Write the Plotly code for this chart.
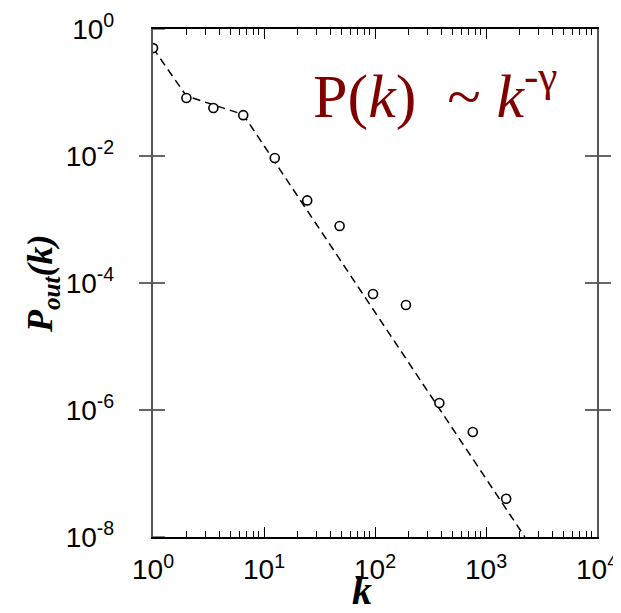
import plotly.graph_objects as go

# Data
k_values = [1, 2, 3.5, 6.5, 12.5, 24.5, 48, 96, 190, 380, 760, 1520]
p_out_values = [0.5, 0.082, 0.057, 0.044, 0.0093, 0.002, 7.9e-4, 6.7e-5, 4.5e-5, 1.29e-6, 4.5e-7, 4.0e-8]

# Dashed fitted curve
fit_k = [1, 2, 6.5, 2240]
fit_p = [0.5, 0.088, 0.045, 1e-8]

x_tickvals = [1, 10, 100, 1000, 10000]
x_ticktext = ["10<sup>0</sup>", "10<sup>1</sup>", "10<sup>2</sup>", "10<sup>3</sup>", "10<sup>4</sup>"]
y_tickvals = [1, 1e-2, 1e-4, 1e-6, 1e-8]
y_ticktext = ["10<sup>0</sup>", "10<sup>-2</sup>", "10<sup>-4</sup>", "10<sup>-6</sup>", "10<sup>-8</sup>"]

PAD = "&nbsp;" * 4  # gap between y tick labels and the axis

OFF = 8  # default page body margin
W, H = 621 - OFF, 613 - OFF
# plot area in page pixels: x 153..597, y 29..537
L, R, T, B = 153 - OFF, 621 - 597, 29 - OFF, 613 - 537
pw, ph = W - L - R, H - T - B

def px(x):
    return (x - OFF - L) / pw

def py(y):
    return (H - B - (y - OFF)) / ph

fig = go.Figure()
fig.add_trace(go.Scatter(
    x=fit_k, y=fit_p, mode="lines",
    line=dict(color="black", width=1.5, dash="8px,5px"),
    hoverinfo="skip", showlegend=False,
))
fig.add_trace(go.Scatter(
    x=k_values, y=p_out_values, mode="markers",
    marker=dict(symbol="circle", size=9, color="white",
                line=dict(color="black", width=1.6)),
    showlegend=False,
))
# left-axis major ticks: horizontal tick symbols at the left edge (half clipped by the plot area)
fig.add_trace(go.Scatter(
    x=[x_tickvals[0]] * len(y_tickvals), y=y_tickvals, mode="markers",
    marker=dict(symbol="line-ew", size=17, color="#666666",
                line=dict(color="#666666", width=1.6)),
    hoverinfo="skip", showlegend=False, cliponaxis=True,
))
# invisible trace to activate the top x axis
fig.add_trace(go.Scatter(
    x=[k_values[0]], y=[p_out_values[0]], xaxis="x2", mode="markers",
    marker=dict(opacity=0), hoverinfo="skip", showlegend=False,
))

tickfont = dict(size=28, color="black", family="Liberation Sans, Arial, sans-serif")

fig.update_layout(
    width=W, height=H,
    margin=dict(l=L, r=R, t=T, b=B, pad=0),
    paper_bgcolor="white", plot_bgcolor="white",
    font=dict(family="Liberation Sans, Arial, sans-serif", color="black"),
    showlegend=False,
    xaxis=dict(
        type="log", range=[0, 4], automargin=False,
        tickvals=x_tickvals, ticktext=x_ticktext,
        ticks="inside", ticklen=10, tickwidth=1.2, tickcolor="black",
        minor=dict(ticks="inside", ticklen=6, tickwidth=1.2, tickcolor="black", dtick="D1"),
        showline=True, linecolor="black", linewidth=1.5,
        showgrid=False, zeroline=False,
        tickfont=tickfont, ticklabelstandoff=7,
    ),
    xaxis2=dict(
        type="log", range=[0, 4], automargin=False, overlaying="x", side="top",
        tickvals=x_tickvals, showticklabels=False,
        ticks="inside", ticklen=10, tickwidth=1.2, tickcolor="black",
        minor=dict(ticks="inside", ticklen=6, tickwidth=1.2, tickcolor="black", dtick="D1"),
        showline=True, linecolor="black", linewidth=1.5,
        showgrid=False, zeroline=False,
    ),
    yaxis=dict(
        type="log", range=[-8, 0], automargin=False,
        tickvals=y_tickvals, ticktext=[t + PAD for t in y_ticktext],
        ticks="inside", ticklen=12, tickwidth=1.6, tickcolor="#666666",
        showline=True, linecolor="#555555", linewidth=2, mirror="allticks",
        showgrid=False, zeroline=False,
        tickfont=tickfont,
    ),
)

fig.add_annotation(
    x=px(42), y=py(284), xref="paper", yref="paper",
    text="<b><i>P<sub>out</sub>(k)</i></b>", textangle=-90,
    showarrow=False, xanchor="center", yanchor="middle",
    font=dict(family="Liberation Serif, Times New Roman, serif", size=36, color="black"),
)
fig.add_annotation(
    x=px(362), y=py(590), xref="paper", yref="paper",
    text="<b><i>k</i></b>",
    showarrow=False, xanchor="center", yanchor="middle",
    font=dict(family="Liberation Serif, Times New Roman, serif", size=40, color="black"),
)
fig.add_annotation(
    x=px(311), y=py(91), xref="paper", yref="paper",
    text="P(<i>k</i>)  ~ <i>k</i><sup>-γ</sup>",
    showarrow=False, xanchor="left", yanchor="middle",
    font=dict(family="Liberation Serif, Times New Roman, serif", size=62, color="#800000"),
)

fig.write_html("out.html")
